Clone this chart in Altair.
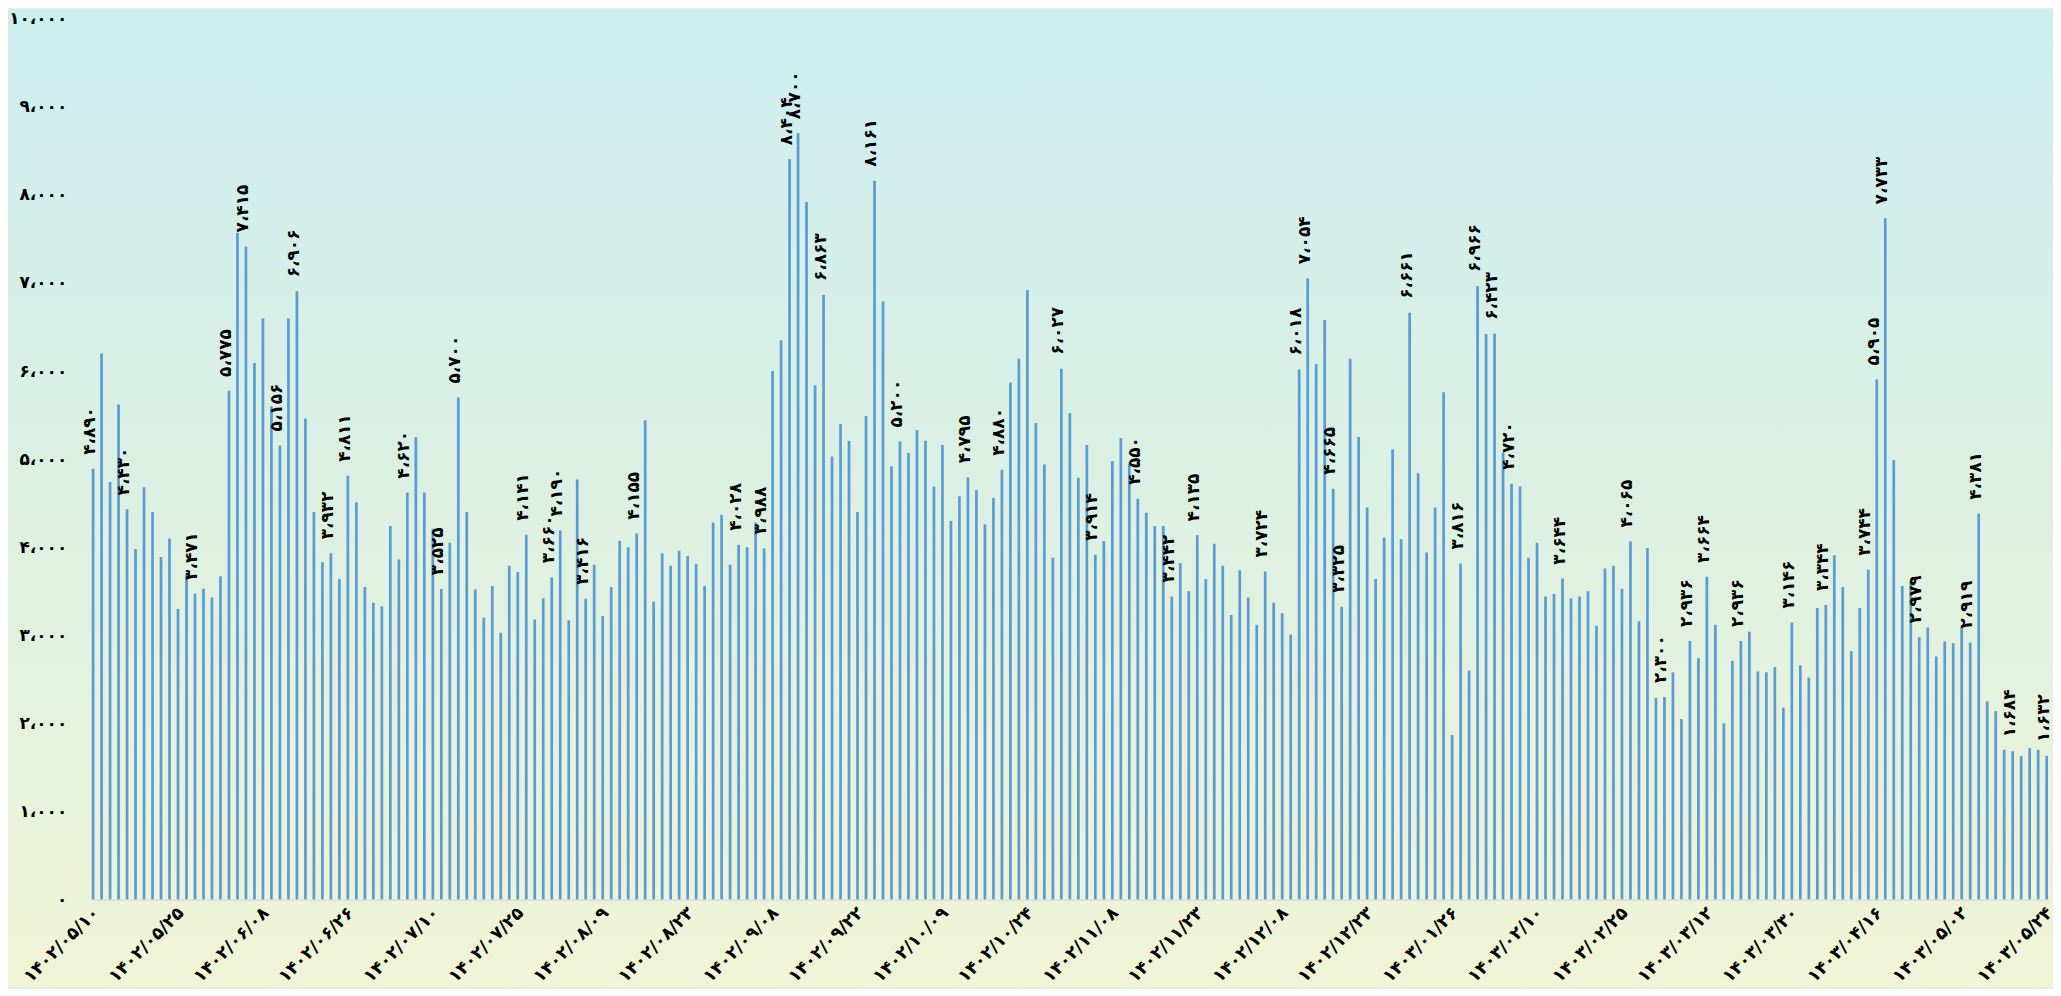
import altair as alt
import pandas as pd

# Daily values (one bar per trading day)
values = [
    4890, 6200, 4740, 5620, 4430, 3980, 4680, 4400, 3890, 4100,
    3300, 3690, 3471, 3530, 3430, 3670, 5775, 7570, 7415, 6090,
    6600, 5600, 5156, 6600, 6906, 5460, 4400, 3830, 3932, 3640,
    4811, 4510, 3550, 3370, 3330, 4240, 3860, 4620, 5250, 4620,
    4210, 3525, 4050, 5700, 4400, 3520, 3200, 3560, 3030, 3790,
    3720, 4141, 3180, 3420, 3660, 4190, 3170, 4770, 3416, 3800,
    3220, 3550, 4070, 4000, 4155, 5440, 3380, 3930, 3790, 3960,
    3900, 3810, 3560, 4280, 4370, 3800, 4028, 4000, 4280, 3988,
    6000, 6350, 8404, 8700, 7920, 5840, 6863, 5030, 5400, 5210,
    4400, 5490, 8161, 6790, 4920, 5200, 5070, 5330, 5210, 4690,
    5160, 4300, 4580, 4795, 4650, 4260, 4560, 4880, 5870, 6140,
    6920, 5410, 4940, 3880, 6027, 5520, 4790, 5160, 3914, 4070,
    4980, 5240, 4950, 4550, 4390, 4240, 4240, 3442, 3820, 3500,
    4135, 3640, 4040, 3790, 3230, 3740, 3430, 3120, 3724, 3370,
    3250, 3010, 6018, 7054, 6080, 6580, 4665, 3325, 6140, 5250,
    4450, 3640, 4110, 5110, 4090, 6661, 4840, 3940, 4450, 5760,
    1870, 3816, 2600, 6966, 6420, 6423, 5070, 4720, 4690, 3880,
    4050, 3440, 3470, 3644, 3420, 3440, 3500, 3110, 3760, 3790,
    3530, 4065, 3160, 3990, 2290, 2300, 2580, 2050, 2936, 2740,
    3664, 3120, 2000, 2710, 2936, 3040, 2590, 2580, 2640, 2180,
    3146, 2660, 2520, 3310, 3344, 3910, 3550, 2820, 3310, 3744,
    5905, 7733, 4990, 3560, 3610, 2979, 3090, 2760, 2930, 2910,
    3100, 2919, 4381, 2250, 2140, 1700, 1684, 1630, 1720, 1700,
    1632,
]

# Bars that carry a value label in the reference
labeled_indices = [
    0, 4, 12, 16, 18, 22, 24, 28, 30, 37, 41, 43, 51, 54, 55, 58, 64, 76, 79,
    82, 83, 86, 92, 95, 103, 107, 114, 118, 123, 127, 130, 138, 142, 143, 146,
    147, 155, 161, 163, 165, 167, 173, 181, 185, 188, 190, 194, 200, 204, 209,
    210, 211, 215, 221, 222, 226, 230,
]

# Category axis labels (every 10th bar)
x_tick_labels = [
    "۱۴۰۲/۰۵/۱۰", "۱۴۰۲/۰۵/۲۵", "۱۴۰۲/۰۶/۰۸", "۱۴۰۲/۰۶/۲۶", "۱۴۰۲/۰۷/۱۰",
    "۱۴۰۲/۰۷/۲۵", "۱۴۰۲/۰۸/۰۹", "۱۴۰۲/۰۸/۲۳", "۱۴۰۲/۰۹/۰۸", "۱۴۰۲/۰۹/۲۲",
    "۱۴۰۲/۱۰/۰۹", "۱۴۰۲/۱۰/۲۴", "۱۴۰۲/۱۱/۰۸", "۱۴۰۲/۱۱/۲۳", "۱۴۰۲/۱۲/۰۸",
    "۱۴۰۲/۱۲/۲۳", "۱۴۰۳/۰۱/۲۶", "۱۴۰۳/۰۲/۱۰", "۱۴۰۳/۰۲/۲۵", "۱۴۰۳/۰۳/۱۲",
    "۱۴۰۳/۰۳/۳۰", "۱۴۰۳/۰۴/۱۶", "۱۴۰۳/۰۵/۰۲", "۱۴۰۳/۰۵/۲۴",
]

y_tick_labels = ["۰", "۱،۰۰۰", "۲،۰۰۰", "۳،۰۰۰", "۴،۰۰۰", "۵،۰۰۰",
                 "۶،۰۰۰", "۷،۰۰۰", "۸،۰۰۰", "۹،۰۰۰", "۱۰،۰۰۰"]

FA = str.maketrans("0123456789,", "۰۱۲۳۴۵۶۷۸۹،")


def fa_num(v):
    return f"{v:,}".translate(FA)


df = pd.DataFrame({
    "i": list(range(len(values))),
    "v": values,
    "lab": [fa_num(v) if k in labeled_indices else "" for k, v in enumerate(values)],
})

W, H = 1963, 884
PAD = {"left": 84, "top": 9, "right": 5, "bottom": 88}
FONT = "DejaVu Sans"

x_expr = "[" + ",".join(f"'{s}'" for s in x_tick_labels) + "][round(datum.value/10)]"
y_expr = "[" + ",".join(f"'{s}'" for s in y_tick_labels) + "][round(datum.value/1000)]"

x_enc = alt.X(
    "i:O",
    scale=alt.Scale(paddingInner=0.68, paddingOuter=0),
    axis=alt.Axis(
        title=None,
        values=list(range(0, len(values), 10)),
        labelExpr=x_expr,
        labelAngle=315,
        labelAlign="right",
        labelBaseline="top",
        labelFont=FONT,
        labelFontWeight="bold",
        labelFontSize=17.5,
        labelColor="#000000",
        labelPadding=4,
        labelOffset=-3,
        labelOverlap=False,
        ticks=False,
        domainColor="#D9D9D9",
        domainWidth=1.5,
        grid=False,
        zindex=1,
    ),
)

y_enc = alt.Y(
    "v:Q",
    scale=alt.Scale(domain=[0, 10000], nice=False),
    axis=alt.Axis(
        title=None,
        values=list(range(0, 10001, 1000)),
        labelExpr=y_expr,
        labelFont=FONT,
        labelFontWeight="bold",
        labelFontSize=17,
        labelColor="#000000",
        labelPadding=25,
        ticks=False,
        domain=False,
        grid=False,
        zindex=1,
    ),
)

bg = alt.Chart(pd.DataFrame({"k": [0]})).mark_rect(
    color=alt.Gradient(
        gradient="linear",
        stops=[
            alt.GradientStop(offset=0, color="#CDEEF0"),
            alt.GradientStop(offset=0.5, color="#DCF0E2"),
            alt.GradientStop(offset=1, color="#F1F4D6"),
        ],
        x1=0, x2=0, y1=0, y2=1,
    )
).encode(
    x=alt.value(-PAD["left"]),
    x2=alt.value(W + PAD["right"]),
    y=alt.value(-PAD["top"]),
    y2=alt.value(H + PAD["bottom"]),
)

bars = alt.Chart(df).mark_bar(color="#5B9BD5").encode(x=x_enc, y=y_enc)

labels = alt.Chart(df).transform_filter(alt.datum.lab != "").mark_text(
    angle=270,
    align="left",
    baseline="middle",
    dx=14,
    dy=-3,
    font=FONT,
    fontWeight="bold",
    fontSize=17,
    color="#000000",
).encode(x=x_enc, y=y_enc, text="lab:N")

chart = alt.layer(bg, bars, labels).properties(
    width=W,
    height=H,
    padding=PAD,
    autosize=alt.AutoSizeParams(type="none"),
    background="#E0F1E0",
).configure_view(stroke=None)

chart.save("out.html", embed_options={"renderer": "svg", "actions": False})
